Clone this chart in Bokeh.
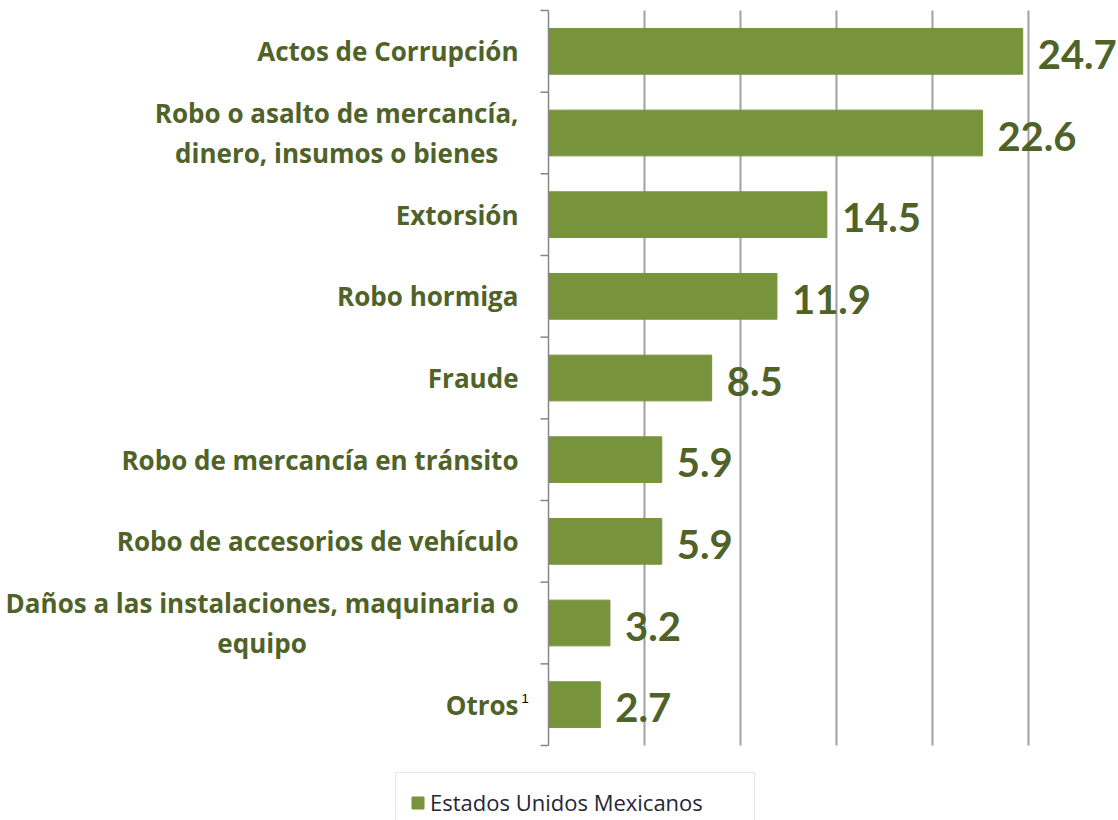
from bokeh.plotting import figure
from bokeh.models import ColumnDataSource, Legend, LegendItem, Range1d
from bokeh.core.properties import value
from bokeh.embed import file_html
from bokeh.resources import INLINE

categories = [
    "Actos de Corrupción",
    "Robo o asalto de mercancía,\ndinero, insumos o bienes",
    "Extorsión",
    "Robo hormiga",
    "Fraude",
    "Robo de mercancía en tránsito",
    "Robo de accesorios de vehículo",
    "Daños a las instalaciones, maquinaria o\nequipo",
    "Otros",
]
footnotes = ["", "", "", "", "", "", "", "", "1"]
values = [24.7, 22.6, 14.5, 11.9, 8.5, 5.9, 5.9, 3.2, 2.7]
value_labels = ["24.7", "22.6", "14.5", "11.9", "8.5", "5.9", "5.9", "3.2", "2.7"]
series_name = "Estados Unidos Mexicanos"
grid_ticks = [5, 10, 15, 20, 25]

n = len(categories)
ypos = [n - 0.5 - i for i in range(n)]
bounds = list(range(n + 1))

BAR = "#77933C"
TXT = "#4F6228"
GRID = "#A0A0A0"
AXIS = "#868686"

W, H = 1118, 820
LEFT, TOP, BOTTOM = 548, 10, 745          # frame pixel positions of the axis area
XMAX = 29.69
px_per_x = (W - LEFT) / XMAX
px_per_y = (BOTTOM - TOP) / n

x0 = -LEFT / px_per_x
y1 = n + TOP / px_per_y
y0 = -(H - BOTTOM) / px_per_y

src = ColumnDataSource(dict(y=ypos, v=values, lab=value_labels, cat=categories, fn=footnotes))

p = figure(width=W, height=H, output_backend="svg", toolbar_location=None,
           x_range=Range1d(x0, XMAX), y_range=Range1d(y0, y1),
           x_axis_location=None, y_axis_location=None,
           min_border=0)
p.outline_line_color = None
p.xgrid.grid_line_color = None
p.ygrid.grid_line_color = None

# vertical gridlines
p.segment(x0=grid_ticks, x1=grid_ticks, y0=[0] * len(grid_ticks), y1=[n] * len(grid_ticks),
          line_color=GRID, line_width=2)

bars = p.hbar(y="y", right="v", left=0, height=0.56, source=src,
              fill_color=BAR, line_color=BAR)

# axis line and category boundary ticks
p.segment(x0=[0], x1=[0], y0=[0], y1=[n], line_color=AXIS, line_width=1.5)
tick_len = 8 / px_per_x
p.segment(x0=[-tick_len] * len(bounds), x1=[0] * len(bounds), y0=bounds, y1=bounds,
          line_color=AXIS, line_width=1.5)

# category labels
p.text(x=0, y="y", text="cat", source=src, x_offset=-30,
       anchor="center_right", text_align="center", text_baseline="middle",
       text_font=value("Open Sans"), text_font_style="bold", text_font_size="26px",
       text_line_height=1.12, text_color=TXT)

# footnote markers
p.text(x=0, y="y", text="fn", source=src, x_offset=-27, y_offset=-6,
       text_align="left", text_baseline="middle",
       text_font=value("Liberation Sans"), text_font_size="13px", text_color="#000000")

# value labels
p.text(x="v", y="y", text="lab", source=src, x_offset=15, y_offset=3,
       text_font=value("Lato"), text_font_style="bold", text_font_size="40px",
       text_color=TXT, text_baseline="middle", text_align="left")

legend = Legend(items=[LegendItem(label=series_name, renderers=[bars])],
                location=(395, -12), orientation="horizontal",
                border_line_color="#D0D0D0", border_line_width=1.5,
                label_text_font="Open Sans", label_text_font_size="22px",
                label_text_color="#262636", padding=14, margin=0,
                glyph_width=15, glyph_height=15, label_standoff=5,
                label_width=310, background_fill_alpha=1)
p.add_layout(legend, "center")

open("out.html", "w").write(file_html(p, INLINE))
